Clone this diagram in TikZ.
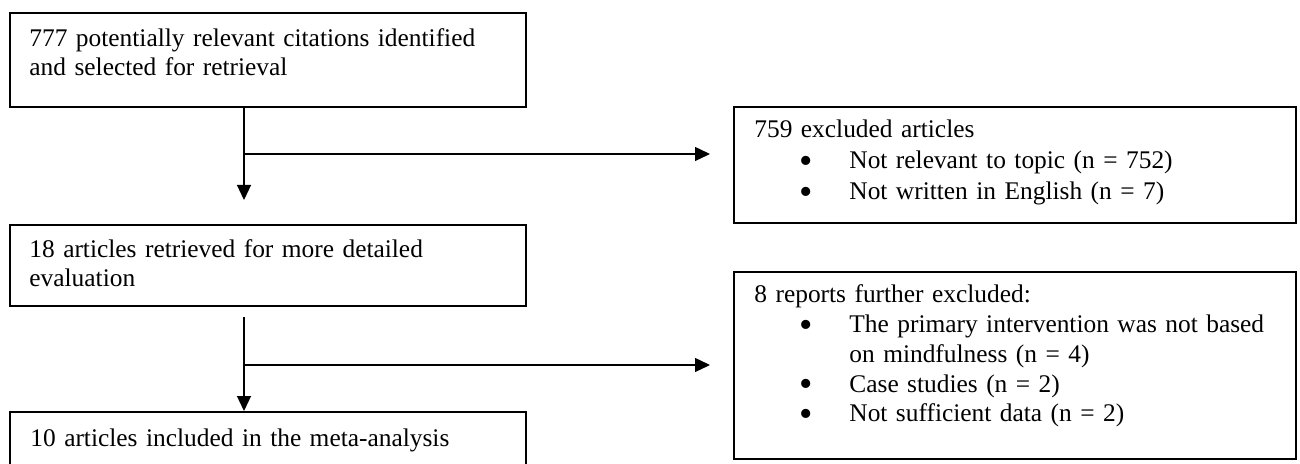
\documentclass[tikz,border=0pt]{standalone}
\usepackage{fontspec}
\usepackage{graphicx}
\setmainfont{Liberation Serif}
\usetikzlibrary{arrows.meta}
\newcommand\bigbul{\smash{\raisebox{-2.3pt}{\scalebox{1.5}{\textbullet}}}}
\newcommand\bitem{\hspace*{21.5pt}\makebox[9pt]{\bigbul}\hspace*{17pt}}
\newcommand\bcont{\hspace*{47.5pt}}
\begin{document}
\begin{tikzpicture}[x=0.5pt,y=-0.5pt,
  box/.style={draw, line width=0.8pt, inner sep=0pt, anchor=north west},
  txt/.style={anchor=base west, inner sep=0pt, align=left, text width=#1,
    font=\fontsize{12.7}{14.5}\selectfont},
  conn/.style={line width=0.65pt, -{Triangle[length=7.5pt,width=7pt]}}]
\useasboundingbox (0,0) rectangle (1300,464);
\clip (0,0) rectangle (1300,464);
% boxes
\node[box, minimum width=258pt, minimum height=47pt] (b1) at (9,12) {};
\node[box, minimum width=258pt, minimum height=40.5pt] (b2) at (9,224) {};
\node[box, minimum width=258pt, minimum height=35pt] (b3) at (9,411) {};
\node[box, minimum width=281pt, minimum height=58pt] (b759) at (733,106) {};
\node[box, minimum width=281pt, minimum height=93.5pt] (b8) at (733,271) {};
% texts
\node[txt=250pt] (t1) at (29,47) {777 potentially relevant citations identified\\and selected for retrieval};
\node[txt=250pt] (t2) at (29,258) {18 articles retrieved for more detailed\\evaluation};
\node[txt=250pt] (t3) at (30,446) {10 articles included in the meta-analysis};
\node[txt=275pt, font=\fontsize{12.7}{15.5}\selectfont] (t759) at (754,138)
  {759 excluded articles\\\bitem Not relevant to topic (n = 752)\\\bitem Not written in English (n = 7)};
\node[txt=275pt, font=\fontsize{12.7}{14.85}\selectfont] (t8) at (754,303)
  {8 reports further excluded:\\\bitem The primary intervention was not based\\\bcont on mindfulness (n = 4)\\\bitem Case studies (n = 2)\\\bitem Not sufficient data (n = 2)};
% connectors
\coordinate (j1) at (244,154);
\coordinate (e1) at (244,200);
\coordinate (s2) at (244,317);
\coordinate (j2) at (244,365);
\draw[conn] (b1.south -| j1) -- (e1);
\draw[conn, shorten >=11.5pt] (j1) -- (b759.west |- j1);
\draw[conn] (s2) -- (b3.north -| s2);
\draw[conn, shorten >=11.5pt] (j2) -- (b8.west |- j2);
\end{tikzpicture}
\end{document}
